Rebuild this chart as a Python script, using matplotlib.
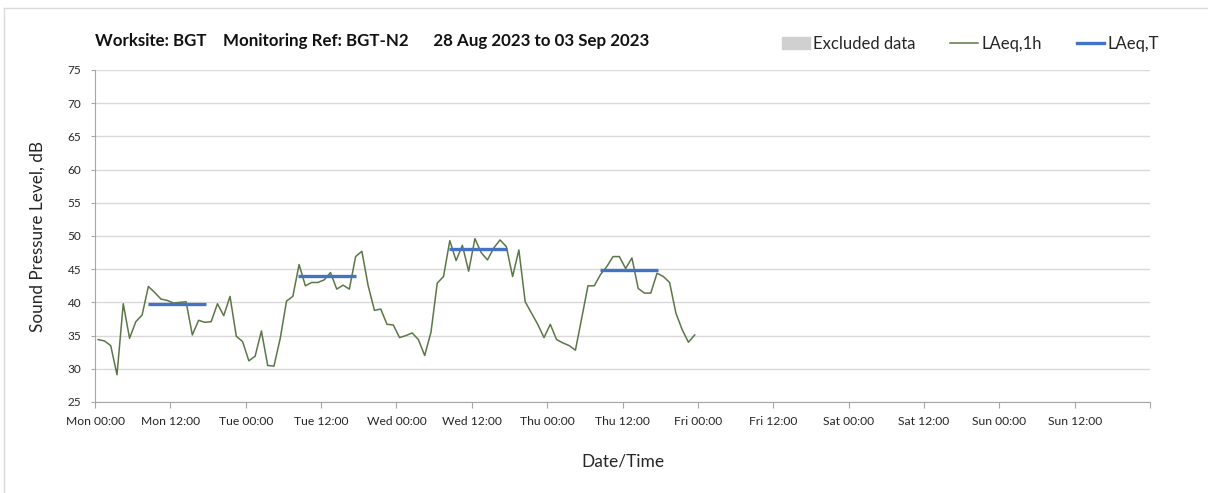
import numpy as np
import matplotlib
matplotlib.use("Agg")
import matplotlib.pyplot as plt
from matplotlib.lines import Line2D
from matplotlib.patches import Patch

plt.rcParams["font.family"] = ["Lato", "DejaVu Sans"]

# hourly LAeq values, Mon 00:00 onwards (plotted at mid-hour)
mon = [34.4, 34.2, 33.5, 29.1, 39.8, 34.6, 37.1, 38.1, 42.4, 41.5, 40.5, 40.3,
       39.9, 40.0, 40.1, 35.1, 37.3, 37.0, 37.1, 39.8, 38.0, 40.9, 34.9, 34.1]
tue = [31.2, 31.9, 35.7, 30.5, 30.4, 34.6, 40.2, 40.9, 45.7, 42.5, 43.0, 43.0,
       43.4, 44.5, 42.0, 42.6, 42.0, 46.9, 47.7, 42.5, 38.8, 39.0, 36.7, 36.6]
wed = [34.7, 35.0, 35.4, 34.4, 32.0, 35.5, 42.9, 43.9, 49.3, 46.3, 48.6, 44.7,
       49.6, 47.5, 46.4, 48.2, 49.4, 48.4, 43.9, 47.9, 40.1, 38.4, 36.7, 34.7]
thu = [36.7, 34.4, 33.9, 33.5, 32.8, 37.6, 42.5, 42.5, 44.2, 45.4, 46.9, 46.9,
       45.1, 46.7, 42.1, 41.4, 41.4, 44.4, 43.9, 43.0, 38.4, 35.9, 34.0, 35.1]
laeq_1h = mon + tue + wed + thu
hours = np.arange(len(laeq_1h)) + 0.5

# LAeq,T daytime periods (hours from Mon 00:00)
period_start = [8.4, 32.4, 56.4, 80.4]
period_end = [17.6, 41.6, 65.6, 89.6]
laeq_t = [39.8, 44.0, 48.0, 44.9]

excluded = []  # no excluded periods

tick_labels = ["Mon 00:00", "Mon 12:00", "Tue 00:00", "Tue 12:00", "Wed 00:00",
               "Wed 12:00", "Thu 00:00", "Thu 12:00", "Fri 00:00", "Fri 12:00",
               "Sat 00:00", "Sat 12:00", "Sun 00:00", "Sun 12:00", ""]

W, H = 1208, 493
fig = plt.figure(figsize=(W / 100, H / 100), dpi=100)
ax = fig.add_axes([95 / W, 1 - 402 / H, (1150 - 95) / W, (402 - 70) / H])

green = "#5b7747"
blue = "#4472c4"
grid = "#d9d9d9"
txt = "#262626"

for s, e in excluded:
    ax.axvspan(s, e, color="#d0d0d0")
ax.plot(hours, laeq_1h, color=green, lw=1.1)
ax.hlines(laeq_t, period_start, period_end, color=blue, lw=2.4)

ax.set_xlim(0, 168)
ax.set_ylim(25, 75)
ax.set_xticks(np.arange(0, 169, 12))
ax.set_xticklabels(tick_labels)
ax.set_xticks(np.arange(0, 169, 24), minor=True)
ax.set_yticks(np.arange(25, 76, 5))
ax.grid(False)
ax.xaxis.grid(True, which="minor", color=grid, lw=1)
ax.yaxis.grid(True, color=grid, lw=1)
ax.tick_params(axis="x", which="minor", length=0)
ax.tick_params(axis="x", which="major", length=4, color="#a6a6a6",
               labelsize=8.7, labelcolor=txt, pad=6)
ax.tick_params(axis="y", length=3, color="#a6a6a6", labelsize=8.5,
               labelcolor=txt, pad=7)
for side in ["top", "right"]:
    ax.spines[side].set_visible(False)
for side in ["left", "bottom"]:
    ax.spines[side].set_color("#a6a6a6")

ax.set_ylabel("Sound Pressure Level, dB", fontsize=12.3, color=txt, labelpad=16)
ax.set_xlabel("Date/Time", fontsize=12.5, color=txt, labelpad=19)

fig.text(95 / W, 1 - 41 / H,
         "Worksite: BGT    Monitoring Ref: BGT-N2      28 Aug 2023 to 03 Sep 2023",
         fontsize=12.2, weight="bold", va="center", ha="left", color="#111111")

handles = [Patch(color="#d0d0d0"),
           Line2D([], [], color=green, lw=1.1),
           Line2D([], [], color=blue, lw=2.4)]
fig.legend(handles, ["Excluded data", "LAeq,1h", "LAeq,T"], ncol=3,
           loc="center left", bbox_to_anchor=(767 / W, 1 - 44 / H),
           frameon=False, fontsize=12, handlelength=1.65, handletextpad=0.2,
           columnspacing=2.1, labelcolor=txt)

# light border of the chart area
fig.add_artist(Line2D([4 / W, 1], [1 - 8 / H] * 2, color=grid, lw=1))
fig.add_artist(Line2D([4 / W] * 2, [0, 1 - 8 / H], color=grid, lw=1))

fig.savefig("out.png", dpi=100)
